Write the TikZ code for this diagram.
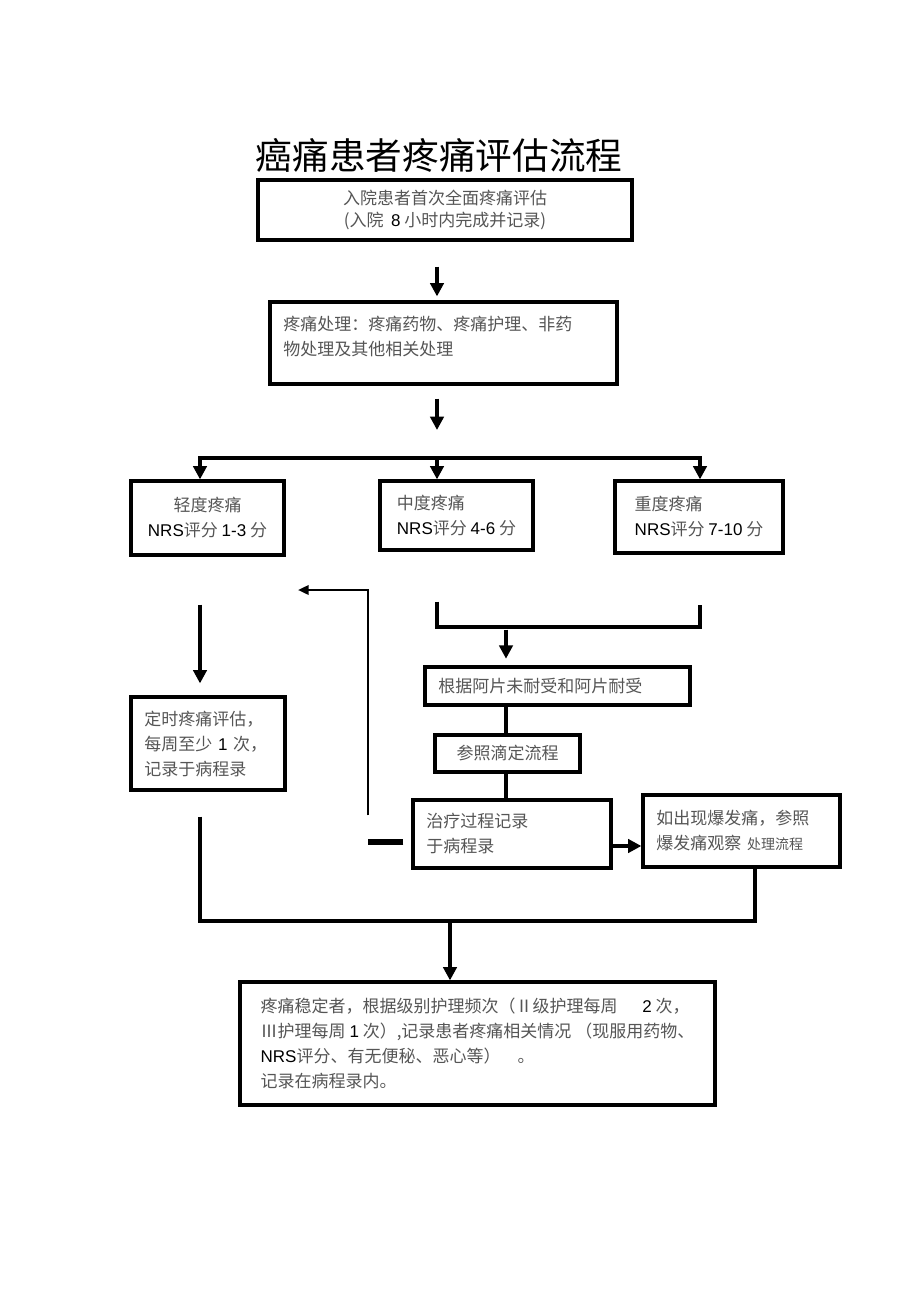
\documentclass[tikz,border=0pt]{standalone}
\usepackage{fontspec}
\setmainfont{Liberation Sans}
\newfontfamily\cjk{Noto Sans CJK SC}
\newfontfamily\ltnfont{Liberation Sans}
\usetikzlibrary{arrows.meta, positioning, calc}
\definecolor{txtgray}{RGB}{85, 85, 85}
\newcommand{\ltn}[1]{{\ltnfont\color{black}#1}}
\tikzset{
    box/.style={
        rectangle, draw=black, line width=2.4pt, inner xsep=10pt, inner ysep=4pt,
        text=txtgray, font=\cjk\fontsize{12.75}{18.75}\selectfont, align=left
    },
    cbox/.style={box, align=center},
    conn/.style={line width=2.6pt},
    arrow/.style={conn, -{Triangle[length=10pt, width=10pt]}},
    backarrow/.style={line width=1.8pt, -{Triangle[length=8pt, width=7pt]}},
    stub/.style={line width=3.8pt},
    heading/.style={font=\cjk\fontsize{27.5}{33}\selectfont, text=black},
}

\begin{document}
\begin{tikzpicture}[x=0.75pt, y=-0.75pt]
    \useasboundingbox (0,0) rectangle (920,1303);

    \node[heading] (title) at (439,155) {癌痛患者疼痛评估流程};

    \node[cbox, minimum width=280.5pt, minimum height=45pt] (first) at (445,210) {入院患者首次全面疼痛评估\\[-2pt](入院~~\ltn{8}~小时内完成并记录)};
    \node[box, text width=240.25pt, minimum height=61.5pt] (treat) at (443.5,343) {疼痛处理：疼痛药物、疼痛护理、非药\\物处理及其他相关处理\\[-8.25pt]\mbox{}};

    \node[cbox, minimum width=114.75pt, minimum height=55.5pt] (mild) at (207.5,518) {轻度疼痛\\\ltn{NRS}评分~\ltn{1-3}~分};
    \node[box, minimum width=114.75pt, minimum height=51.75pt] (moderate) at (456.5,515.5) {中度疼痛\\\ltn{NRS}评分~\ltn{4-6}~分};
    \node[box, minimum width=126pt, minimum height=54pt] (severe) at (699,517) {重度疼痛\\\ltn{NRS}评分~\ltn{7-10}~分};

    \node[box, text width=95.5pt, minimum height=69.75pt] (regular) at (208,743.5) {定时疼痛评估，\\每周至少~\ltn{1}~次，\\记录于病程录};
    \node[box, text width=178.75pt, minimum height=28.5pt] (opioid) at (557.5,686) {根据阿片未耐受和阿片耐受};
    \node[cbox, minimum width=108.75pt, minimum height=27.75pt] (titrate) at (507.5,753.5) {参照滴定流程};
    \node[box, text width=128.5pt, minimum height=51pt] (record) at (512,834) {治疗过程记录\\于病程录};
    \node[box, text width=127.75pt, minimum height=54pt] (burst) at (741.5,831) {如出现爆发痛，参照\\爆发痛观察~{\fontsize{10.5}{18.75}\selectfont 处理流程}};

    \node[box, minimum width=356.25pt, minimum height=92.25pt] (stable) at (477.5,1043.5) {疼痛稳定者，根据级别护理频次（Ⅱ级护理每周\quad~~\ltn{2}~次，\\Ⅲ护理每周~\ltn{1}~次）,记录患者疼痛相关情况~（现服用药物、\\\ltn{NRS}评分、有无便秘、恶心等）\quad。\\记录在病程录内。};

    % branch points
    \coordinate (mainx) at (437,458);
    \coordinate (bl) at (200,458);
    \coordinate (br) at (700,458);
    \coordinate (jl) at (437,627);
    \coordinate (jr) at (700,627);
    \coordinate (jm) at (506,627);
    \coordinate (merge) at (450,921);
    \coordinate (mr) at (755,921);
    \coordinate (fb) at (368,590);
    \coordinate (fbtip) at (298,590);

    \draw[arrow, shorten <=18.75pt, shorten >=3pt] (first.south -| mainx) -- (treat.north -| mainx);
    \draw[arrow, shorten <=9.75pt, shorten >=21pt] (treat.south -| mainx) -- (mainx);
    \draw[arrow] (mainx) -- (bl) -- (bl |- mild.north);
    \draw[arrow] (mainx) -- (br) -- (br |- severe.north);
    \draw[arrow] (mainx) -- (mainx |- moderate.north);

    \draw[arrow, shorten <=36pt, shorten >=9pt] (bl |- mild.south) -- (bl |- regular.north);
    \draw[conn, shorten <=18.75pt] (bl |- regular.south) |- (mr) -- (mr |- burst.south);
    \draw[arrow] (merge) -- (merge |- stable.north);

    \draw[conn, shorten <=37.5pt, shorten >=37.5pt] (jl |- moderate.south) -- (jl) -- (jr) -- (jr |- severe.south);
    \draw[arrow, shorten <=2pt, shorten >=5pt] (jm) -- (jm |- opioid.north);
    \draw[conn] (jm |- opioid.south) -- (jm |- titrate.north);
    \draw[conn] (jm |- titrate.south) -- (jm |- record.north);
    \draw[arrow, line width=3.4pt] ([yshift=-9pt]record.east) -- ([yshift=-9pt]record.east -| burst.west);

    \draw[stub, shorten <=6pt] ([yshift=-6pt]record.west) -- ([yshift=-6pt]record.west -| fb);
    \draw[backarrow, shorten <=14pt] (fb |- record.center) -- (fb) -- (fbtip);
\end{tikzpicture}
\end{document}
